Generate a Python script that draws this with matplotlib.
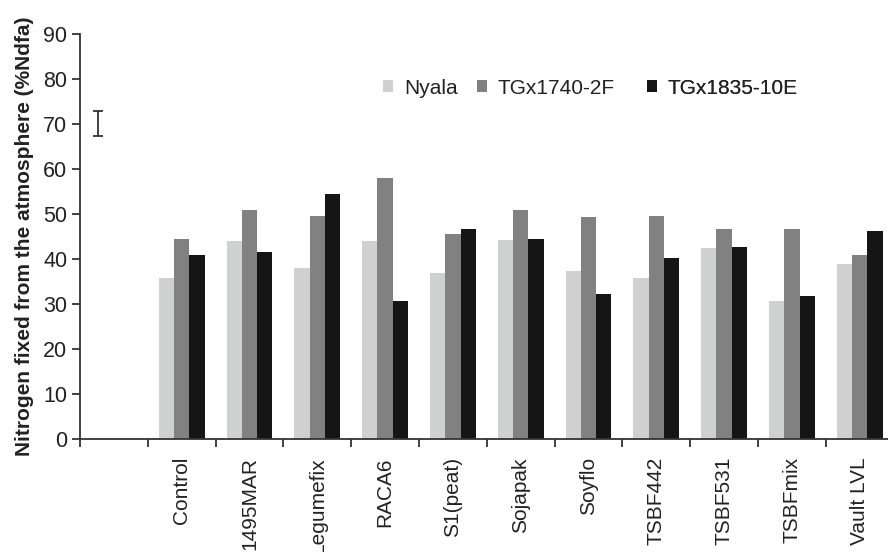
import matplotlib
matplotlib.use("Agg")
import matplotlib.pyplot as plt
import numpy as np

plt.rcParams['font.family'] = ['Liberation Sans', 'DejaVu Sans']

categories = ["", "Control", "1495MAR", "Legumefix", "RACA6", "S1(peat)", "Sojapak",
              "Soyflo", "TSBF442", "TSBF531", "TSBFmix", "Vault LVL"]
series_names = ["Nyala", "TGx1740-2F", "TGx1835-10E"]
nyala = [np.nan, 35.8, 44.0, 38.0, 44.0, 36.9, 44.2, 37.3, 35.8, 42.4, 30.7, 38.9]
tgx1740 = [np.nan, 44.4, 50.9, 49.6, 57.9, 45.6, 50.9, 49.3, 49.6, 46.7, 46.7, 40.9]
tgx1835 = [np.nan, 40.9, 41.6, 54.4, 30.7, 46.7, 44.4, 32.2, 40.2, 42.7, 31.8, 46.2]
colors = ["#cfd1d0", "#818181", "#151515"]
lsd_center = 70.1
lsd_half = 2.8

fig = plt.figure(figsize=(8.88, 5.52), dpi=100)
W, H = 888, 552
ax_w = 12 * 67.8
ax = fig.add_axes([80 / W, (H - 439) / H, ax_w / W, 405 / H])

x = np.arange(len(categories))
bw = 0.226
handles = []
for i, (vals, c, name) in enumerate(zip([nyala, tgx1740, tgx1835], colors, series_names)):
    b = ax.bar(x + (i - 1) * bw, vals, width=bw, color=c, label=name, linewidth=0)
    handles.append(b)

ax.errorbar([-0.235], [lsd_center], yerr=[lsd_half], fmt='none', ecolor='#333333',
            elinewidth=1.3, capsize=3.4, capthick=1.3)

ax.set_xlim(-0.5, 11.5)
ax.set_ylim(0, 90)
ax.set_yticks(np.arange(0, 91, 10))
ax.set_xticks(x)
ax.set_xticklabels(categories, rotation=90, fontsize=15, color='#222222')
ax.set_xticks(np.arange(-0.5, 11.6, 1), minor=True)
ax.tick_params(axis='x', which='major', length=0, pad=13)
ax.tick_params(axis='x', which='minor', length=6, width=1.3, direction='out', color='#333333')
ax.tick_params(axis='y', which='major', length=6, width=1.3, direction='out', color='#333333',
               labelsize=15.5, labelcolor='#222222', pad=3)
for s in ['top', 'right']:
    ax.spines[s].set_visible(False)
for s in ['left', 'bottom']:
    ax.spines[s].set_color('#333333')
    ax.spines[s].set_linewidth(1.3)

ax.set_ylabel("Nitrogen fixed from the atmosphere (%Ndfa)", fontsize=15, fontweight='bold',
              color='#222222', labelpad=7)

# legend entries placed individually (left edge of square in pixels)
leg_x = [383, 477, 647]
leg_y = 88
for h, name, lx in zip(handles, series_names, leg_x):
    leg = ax.legend([h], [name], loc='center left',
                    bbox_to_anchor=((lx - 80) / ax_w, (439 - leg_y) / 405),
                    frameon=False, fontsize=15, handlelength=0.5, handleheight=0.5,
                    handletextpad=0.5, borderaxespad=0, borderpad=0)
    for t in leg.get_texts():
        t.set_color('#222222')
    ax.add_artist(leg)

fig.savefig("out.png", dpi=100)
